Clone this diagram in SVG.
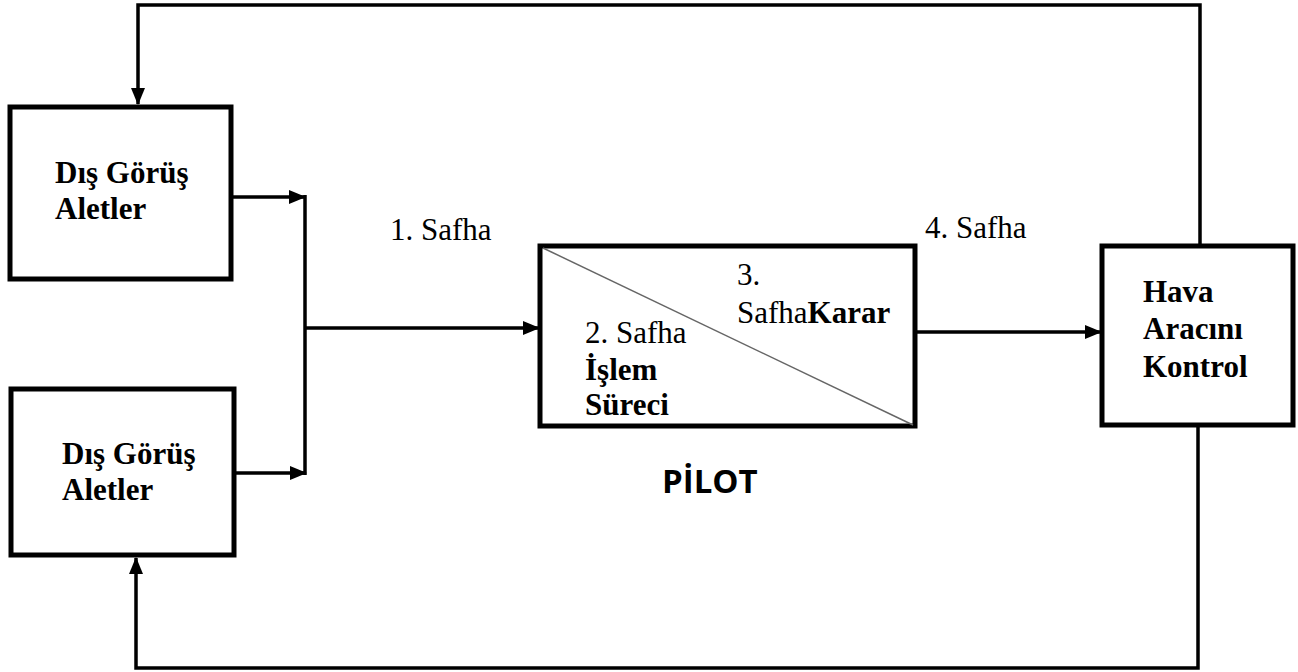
<svg xmlns="http://www.w3.org/2000/svg" width="1298" height="672" viewBox="0 0 1298 672">
<defs>
<style>
.box{fill:#fff;stroke:#000;stroke-width:5}
.con{fill:none;stroke:#000;stroke-width:3.5}
.t{font-family:"Liberation Serif","Times New Roman",serif;font-size:31px;fill:#000}
.b{font-weight:bold}
.pilot{font-family:"Open Sans","Noto Sans",sans-serif;font-weight:bold;font-size:33px;fill:#000}
</style>
<marker id="ah" markerUnits="userSpaceOnUse" markerWidth="17" markerHeight="14" refX="16" refY="7" orient="auto">
<path d="M0,0 L17,7 L0,14 Z" fill="#000"/>
</marker>
</defs>
<rect width="1298" height="672" fill="#fff"/>
<g id="connectors">
<path class="con" d="M1200,245 V5 H138 V104" marker-end="url(#ah)"/>
<path class="con" d="M1198,426 V668 H136 V558" marker-end="url(#ah)"/>
<path class="con" d="M233,197 H305" marker-end="url(#ah)"/>
<path class="con" d="M236,473 H306" marker-end="url(#ah)"/>
<path class="con" d="M305,195 V475"/>
<path class="con" d="M305,328 H539" marker-end="url(#ah)"/>
<path class="con" d="M917,332 H1101" marker-end="url(#ah)"/>
</g>
<g id="box1">
<rect class="box" x="10" y="107" width="221" height="172"/>
<text class="t b" x="55" y="183">Dış Görüş</text>
<text class="t b" x="55" y="219">Aletler</text>
</g>
<g id="box2">
<rect class="box" x="11" y="389" width="223" height="166"/>
<text class="t b" x="62" y="464">Dış Görüş</text>
<text class="t b" x="62" y="500">Aletler</text>
</g>
<g id="pilot">
<rect class="box" x="540" y="246" width="375" height="180"/>
<line x1="543" y1="248" x2="913" y2="425" stroke="#666" stroke-width="1.5"/>
<text class="t" x="737" y="285">3.</text>
<text class="t" x="737" y="323">Safha<tspan class="b">Karar</tspan></text>
<text class="t" x="585" y="343">2. Safha</text>
<text class="t b" x="585" y="380">İşlem</text>
<text class="t b" x="585" y="415">Süreci</text>
</g>
<g id="control">
<rect class="box" x="1102" y="246" width="191" height="179"/>
<text class="t b" x="1143" y="302">Hava</text>
<text class="t b" x="1143" y="339">Aracını</text>
<text class="t b" x="1143" y="377">Kontrol</text>
</g>
<g id="labels">
<text class="t" x="390" y="240">1. Safha</text>
<text class="t" x="925" y="238">4. Safha</text>
<text class="pilot" x="662" y="493">PİLOT</text>
</g>
</svg>
